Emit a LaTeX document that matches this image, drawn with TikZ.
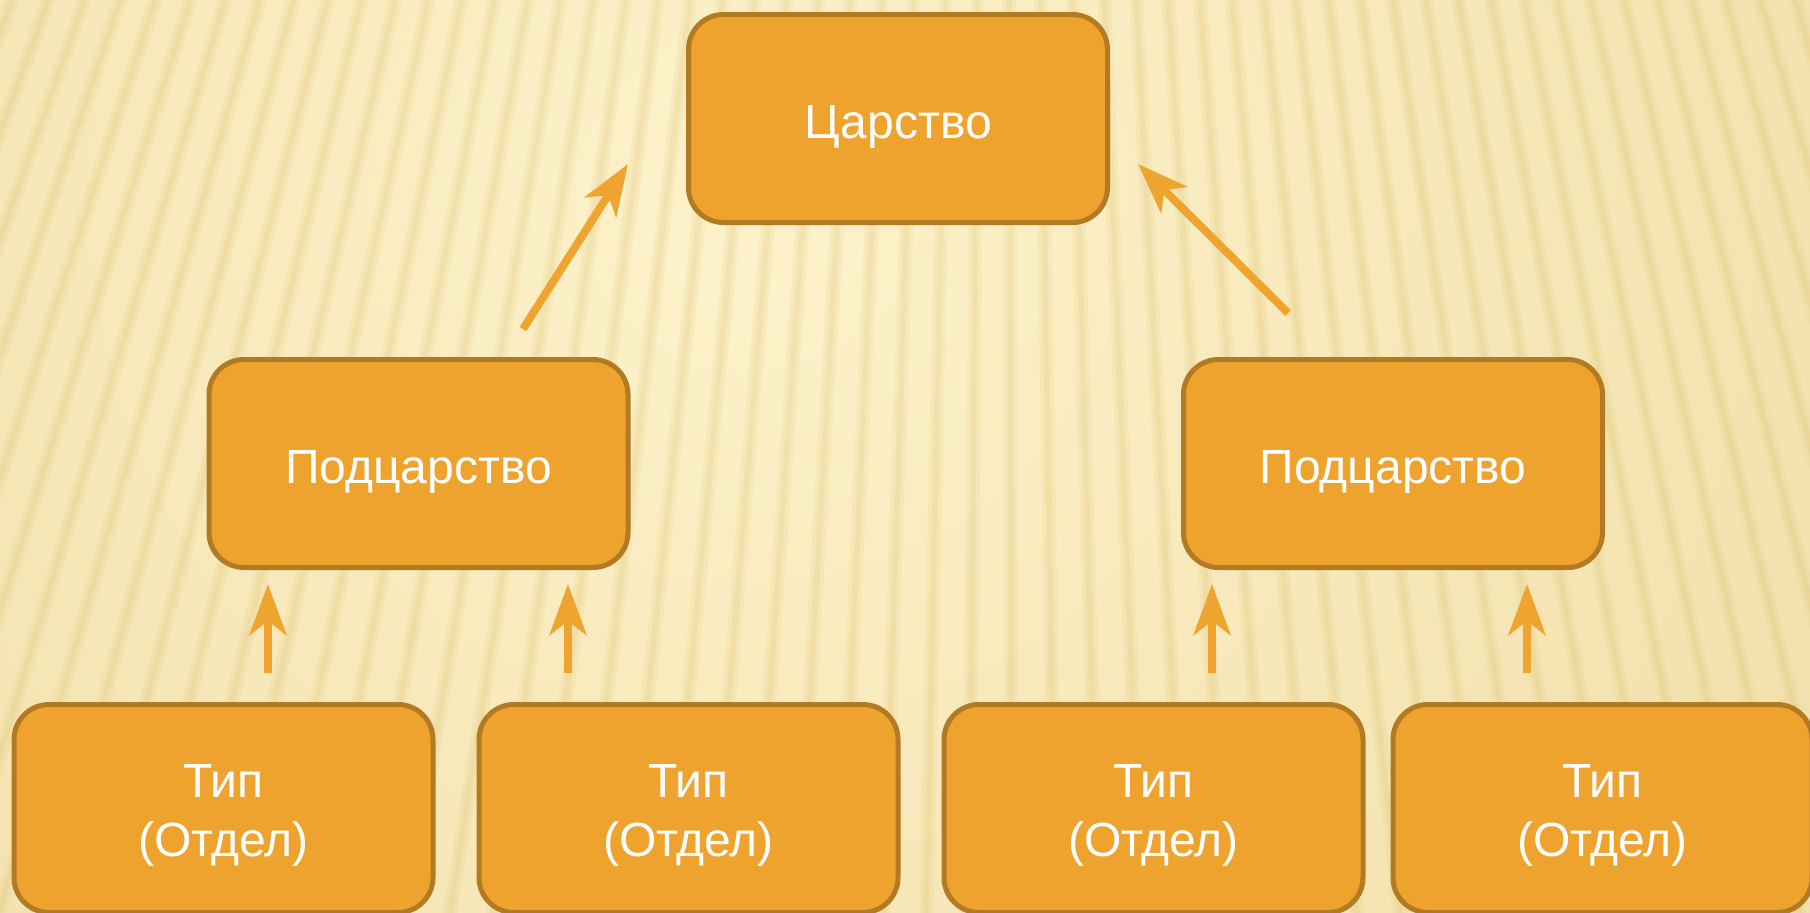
\documentclass[tikz,border=0pt]{standalone}
\usepackage{fontspec}
\setmainfont{Liberation Sans}
\usetikzlibrary{arrows.meta}
\definecolor{boxfill}{HTML}{EFA32F}
\definecolor{boxline}{HTML}{B27A22}
\definecolor{arrowc}{HTML}{F0A430}
\definecolor{bglight}{HTML}{FDF2CB}
\definecolor{bgdark}{HTML}{E6CE8A}
\definecolor{stripec}{HTML}{D9B95E}
\begin{document}
\begin{tikzpicture}[x=1pt,y=-1pt,
  box/.style={draw=boxline, line width=5pt, fill=boxfill, rounded corners=35pt,
    minimum width=419pt, minimum height=208pt, inner sep=0pt,
    text=white, font=\fontsize{48}{59}\selectfont, align=center},
  onel/.style={text height=40.4pt, text depth=0pt},
  twol/.style={text height=95.4pt, text depth=0pt},
  arr/.style={draw=arrowc, line width=8pt, -{Stealth[length=51pt,width=37pt,inset=14pt]}},
  stripe/.style={stripec, line width=14pt, opacity=0.11},
  stripeb/.style={stripec, line width=6pt, opacity=0.14}]
\useasboundingbox (0,0) rectangle (1810,913);
\begin{scope}
  \clip (0,0) rectangle (1810,913);
  \shade[inner color=bglight, outer color=bgdark] (750,200) circle (2500);
  \foreach \a in {66,66.7,...,114} {
    \draw[stripe] (1000,-2600) -- ++(\a:4000);
    \draw[stripeb] (1000,-2600) -- ++(\a:4000);
  }
\end{scope}

\node[box,onel] (k) at (898,118.5) {Царство};
\node[box,onel] (p1) at (418.5,463.5) {Подцарство};
\node[box,onel] (p2) at (1393,463.5) {Подцарство};
\node[box,twol] (t1) at (223.5,808.5) {Тип\\(Отдел)};
\node[box,twol] (t2) at (688.5,808.5) {Тип\\(Отдел)};
\node[box,twol] (t3) at (1153.5,808.5) {Тип\\(Отдел)};
\node[box,twol] (t4) at (1602.5,808.5) {Тип\\(Отдел)};

\draw[arr, shorten <=29pt, shorten >=14pt] ([xshift=44.5pt]t1.north) -- ([xshift=44.5pt]t1.north |- p1.south);
\draw[arr, shorten <=29pt, shorten >=14pt] ([xshift=-120.5pt]t2.north) -- ([xshift=-120.5pt]t2.north |- p1.south);
\draw[arr, shorten <=29pt, shorten >=14pt] ([xshift=58.5pt]t3.north) -- ([xshift=58.5pt]t3.north |- p2.south);
\draw[arr, shorten <=29pt, shorten >=14pt] ([xshift=-75.5pt]t4.north) -- ([xshift=-75.5pt]t4.north |- p2.south);

\coordinate (d1a) at (523,329);
\coordinate (d1b) at (628,164);
\coordinate (d2a) at (1288,313);
\coordinate (d2b) at (1138,164);
\draw[arr] (d1a) -- (d1b);
\draw[arr] (d2a) -- (d2b);
\end{tikzpicture}
\end{document}
